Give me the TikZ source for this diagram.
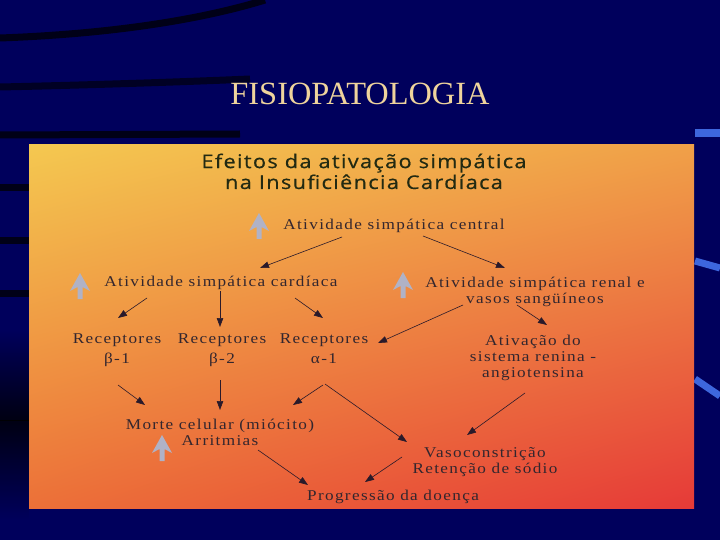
\documentclass[tikz,border=0pt]{standalone}
\usepackage{fontspec}
\setmainfont{Liberation Serif}
\newfontfamily\bodyfont[FakeStretch=1.15,LetterSpace=9]{Liberation Serif}
\newfontfamily\headfont[FakeStretch=1.15,LetterSpace=7,FakeBold=0.6]{Open Sans}
\usetikzlibrary{arrows.meta,calc,shadings}
\definecolor{navy}{HTML}{00005C}
\definecolor{titlecol}{HTML}{EFD49C}
\definecolor{bodycol}{HTML}{33262E}
\definecolor{headcol}{HTML}{222A12}
\definecolor{arrcol}{HTML}{2A1A2A}
\definecolor{iconcol}{HTML}{B0B2C6}
\definecolor{pyel}{HTML}{F4C850}
\definecolor{porg}{HTML}{F0A048}
\definecolor{pbl}{HTML}{EC7038}
\definecolor{pred}{HTML}{E63A38}
\definecolor{stripeblue}{HTML}{3D66DD}
\tikzset{
  uparr/.pic={\fill[iconcol] (0,-13) -- (10,5) -- (2.5,1) -- (2.5,13) -- (-2.5,13) -- (-2.5,1) -- (-10,5) -- cycle;},
  txt/.style={font=\bodyfont\fontsize{15}{16}\selectfont, text=bodycol, inner sep=0pt, align=center, anchor=base},
  arr/.style={draw=arrcol, line width=0.6bp, -{Triangle[length=9bp,width=6.5bp]}},
  band/.style={line width=7bp, black, opacity=0.75}
}
\begin{document}
\begin{tikzpicture}[x=1bp,y=-1bp]
\useasboundingbox (0,0) rectangle (720,540);
\fill[navy] (0,0) rectangle (720,540);
% dark bands
\draw[band] (0,38) .. controls (110,34) and (200,20) .. (265,0);
\draw[band, opacity=0.6] (0,87) .. controls (90,85) and (180,82) .. (250,79);
\draw[band] (0,135) -- (240,134);
\draw[band] (0,188) -- (29,188);
\draw[band] (0,241) -- (29,241);
\draw[band] (0,293) -- (29,293);
\shade[top color=navy, bottom color=black, opacity=0.8] (0,330) rectangle (29,420);
\shade[top color=black, bottom color=navy, opacity=0.8] (0,420) rectangle (29,520);
% blue strokes right
\draw[stripeblue, line width=8bp] (695,133) -- (720,133);
\draw[stripeblue, line width=7bp] (695,261) -- (720,268);
\draw[stripeblue, line width=7bp] (695,379) -- (720,396);
% panel
\shade[upper left=pyel, upper right=porg, lower left=pbl, lower right=pred] (29,145) rectangle (694,508);
% title
\node[font=\fontsize{32.5}{36}\selectfont, text=titlecol, anchor=base, inner sep=0pt] (title) at (360,105) {FISIOPATOLOGIA};
% heading
\node[font=\headfont\fontsize{19}{21}\selectfont, text=headcol, align=center, anchor=base, inner sep=0pt] (head) at (364,189) {Efeitos da ativação simpática\\na Insuficiência Cardíaca};
% nodes
\node[txt] (central) at (394,230) {Atividade simpática central};
\node[txt] (cardiaca) at (221,287) {Atividade simpática cardíaca};
\node[txt] (renal) at (535,303) {Atividade simpática renal e\\vasos sangüíneos};
\node[txt, font=\bodyfont\fontsize{15}{20}\selectfont] (rb1) at (117,363) {Receptores\\β-1};
\node[txt, font=\bodyfont\fontsize{15}{20}\selectfont] (rb2) at (222,363) {Receptores\\β-2};
\node[txt, font=\bodyfont\fontsize{15}{20}\selectfont] (ra1) at (324,363) {Receptores\\α-1};
\node[txt] (sra) at (533,377) {Ativação do\\sistema renina -\\angiotensina};
\node[txt] (morte) at (220,445) {Morte celular (miócito)\\Arritmias};
\node[txt] (vaso) at (485,473) {Vasoconstrição\\Retenção de sódio};
\node[txt] (prog) at (393,500) {Progressão da doença};
% icons
\pic at (259,226) {uparr};
\pic at (80,286) {uparr};
\pic at (403,285) {uparr};
\pic at (162,448) {uparr};
% connectors
\draw[arr] ($(central.base)+(-52,7)$) -- ($(cardiaca.base)+(39,-19)$);
\draw[arr] ($(central.base)+(29,6)$) -- ($(renal.base)+(-30,-35)$);
\draw[arr] ($(cardiaca.base)+(-74,11)$) -- ($(rb1.base)+(1,-45)$);
\draw[arr] ($(cardiaca.base)+(-1,4)$) -- ($(rb2.base)+(-2,-36)$);
\draw[arr] ($(cardiaca.base)+(74,11)$) -- ($(ra1.base)+(-1,-45)$);
\draw[arr] ($(renal.base)+(-72,2)$) -- ($(ra1.base)+(54,-20)$);
\draw[arr] ($(renal.base)+(-18,2)$) -- ($(sra.base)+(14,-52)$);
\draw[arr] ($(rb1.base)+(1,22)$) -- ($(morte.base)+(-75,-40)$);
\draw[arr] ($(rb2.base)+(-2,17)$) -- ($(morte.base)+(0,-35)$);
\draw[arr] ($(ra1.base)+(-1,22)$) -- ($(morte.base)+(73,-40)$);
\draw[arr] ($(ra1.base)+(1,21)$) -- ($(vaso.base)+(-78,-31)$);
\draw[arr] ($(sra.base)+(-8,16)$) -- ($(vaso.base)+(-18,-38)$);
\draw[arr] ($(morte.base)+(38,5)$) -- ($(prog.base)+(-85,-15)$);
\draw[arr] ($(vaso.base)+(-83,-16)$) -- ($(prog.base)+(-28,-18)$);
\end{tikzpicture}
\end{document}
